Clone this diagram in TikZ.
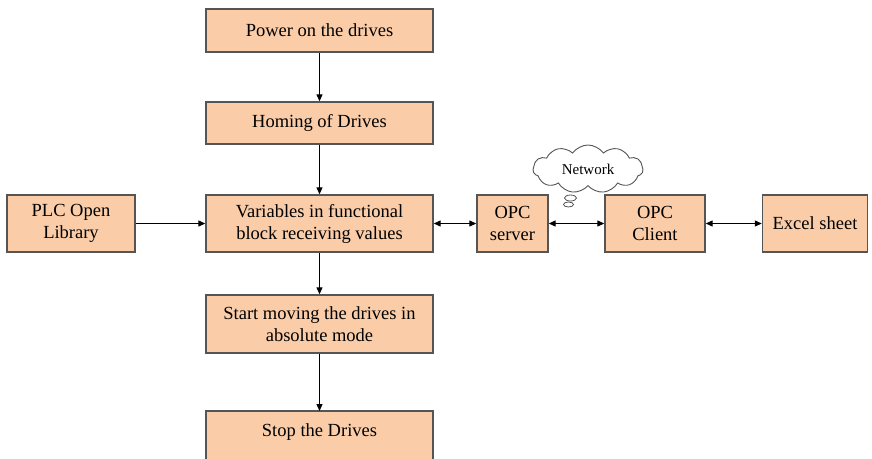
\documentclass[tikz,border=0pt]{standalone}
\usepackage{fontspec}
\setmainfont{Liberation Serif}
\usetikzlibrary{arrows.meta,shapes.symbols}
\definecolor{boxfill}{RGB}{250,205,168}
\definecolor{boxline}{RGB}{85,85,85}
\begin{document}
\begin{tikzpicture}[x=1pt,y=-1pt,
  stepbox/.style={draw=boxline,line width=1.4pt,fill=boxfill,inner sep=0pt,
    align=center,font=\fontsize{18.5}{22}\selectfont},
  link/.style={line width=1.2pt,-{Triangle[length=7pt,width=6pt]}},
  twoway/.style={line width=1.2pt,{Triangle[length=7pt,width=6pt]}-{Triangle[length=7pt,width=6pt]}}]
\useasboundingbox (0,0) rectangle (872,458);
\begin{scope}
\clip (0,0) rectangle (872,458);
% main column
\node[stepbox,minimum width=227pt,minimum height=43pt] (power) at (319.5,30.5) {Power on the drives};
\node[stepbox,minimum width=227pt,minimum height=42pt] (homing) at (319.5,123) {Homing of Drives};
\node[stepbox,minimum width=227pt,minimum height=57pt] (vars) at (319.5,223.5) {Variables in functional\\block receiving values};
\node[stepbox,minimum width=227pt,minimum height=58pt] (start) at (319.5,324) {Start moving the drives in\\absolute mode};
\node[stepbox,minimum width=227pt,minimum height=60pt,text depth=22pt] (stop) at (319.5,441) {Stop the Drives};
% side boxes
\node[stepbox,minimum width=128pt,minimum height=57pt] (plc) at (71,223.5) {PLC Open\\Library};
\node[stepbox,minimum width=71pt,minimum height=57pt] (server) at (512.5,223.5) {OPC\\server};
\node[stepbox,minimum width=100pt,minimum height=57pt] (client) at (655,223.5) {OPC\\Client};
\node[stepbox,minimum width=105pt,minimum height=57pt] (excel) at (815,223.5) {Excel sheet};
% network cloud with thought bubbles
\node[cloud,cloud puffs=11,cloud puff arc=110,aspect=2.3,draw=boxline,line width=0.9pt,fill=white,
  minimum width=110pt,minimum height=48pt,inner sep=0pt,font=\fontsize{15}{18}\selectfont] (net) at (588,169) {Network};
\draw[boxline,line width=0.8pt] (570.5,198) ellipse (6pt and 3pt);
\draw[boxline,line width=0.8pt] (568.5,204.5) ellipse (5pt and 2.5pt);
\end{scope}
% connectors
\draw[link] (power) -- (homing);
\draw[link] (homing) -- (vars);
\draw[link] (vars) -- (start);
\draw[link] (start.south) -- (start.south |- 0,411);
\draw[link] (plc) -- (vars);
\draw[twoway] (vars) -- (server);
\draw[twoway] (server) -- (client);
\draw[twoway] (client) -- (excel);
\end{tikzpicture}
\end{document}
